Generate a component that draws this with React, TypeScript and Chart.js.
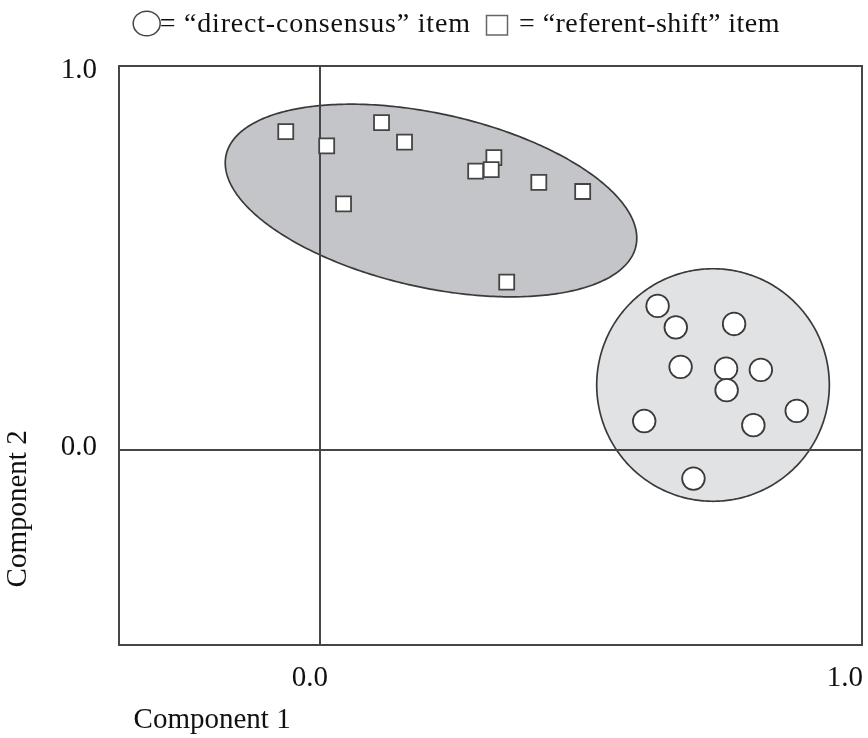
import { useEffect, useRef } from 'react';
import { Chart, registerables } from 'chart.js';

Chart.register(...registerables);

// "referent-shift" items (squares)
const referentShiftX = [-0.064, 0.0125, 0.115, 0.158, 0.044, 0.325, 0.291, 0.32, 0.409, 0.491, 0.349];
const referentShiftY = [0.846, 0.808, 0.87, 0.818, 0.654, 0.777, 0.741, 0.745, 0.711, 0.687, 0.446];

// "direct-consensus" items (circles)
const directConsensusX = [0.631, 0.665, 0.774, 0.674, 0.759, 0.824, 0.76, 0.606, 0.81, 0.891, 0.698];
const directConsensusY = [0.383, 0.326, 0.335, 0.221, 0.216, 0.213, 0.159, 0.077, 0.066, 0.104, -0.076];

const tickValues = [0, 1];
const legendLabels = ['= \u201Cdirect-consensus\u201D item', '= \u201Creferent-shift\u201D item'];
const axisTitles = ['Component 1', 'Component 2'];

// cluster regions in data units: centre + two conjugate semi-axis vectors
const referentRegion = { cx: 0.2075, cy: 0.663, ux: 0.383, uy: -0.121, vx: -0.0351, vy: -0.2256 };
const consensusRegion = { cx: 0.7346, cy: 0.1727, ux: 0.2174, uy: 0, vx: 0, vy: 0.309 };

const FONT = 'Liberation Serif';
const INK = '#111111';
const LINE = '#464646';

export default function App() {
  const ref = useRef<HTMLCanvasElement>(null);

  useEffect(() => {
    document.body.style.margin = '0';
    const canvas = ref.current;
    if (!canvas) return;

    const regionPlugin = {
      id: 'regions',
      beforeDraw(chart: any) {
        const { ctx } = chart;
        const x = chart.scales.x;
        const y = chart.scales.y;
        const drawRegion = (r: any, fill: string) => {
          ctx.save();
          ctx.beginPath();
          const n = 360;
          for (let i = 0; i <= n; i++) {
            const t = (i / n) * Math.PI * 2;
            const dx = r.cx + r.ux * Math.cos(t) + r.vx * Math.sin(t);
            const dy = r.cy + r.uy * Math.cos(t) + r.vy * Math.sin(t);
            const px = x.getPixelForValue(dx);
            const py = y.getPixelForValue(dy);
            if (i === 0) ctx.moveTo(px, py);
            else ctx.lineTo(px, py);
          }
          ctx.closePath();
          ctx.fillStyle = fill;
          ctx.fill();
          ctx.lineWidth = 1.7;
          ctx.strokeStyle = '#3a3a3a';
          ctx.stroke();
          ctx.restore();
        };
        drawRegion(referentRegion, '#c4c5c8');
        drawRegion(consensusRegion, '#e1e2e4');
      },
    };

    const headerPlugin = {
      id: 'header',
      afterDraw(chart: any) {
        const ctx = chart.ctx as CanvasRenderingContext2D;
        ctx.save();
        ctx.lineWidth = 1.5;
        ctx.strokeStyle = '#444444';
        ctx.beginPath();
        ctx.ellipse(146.7, 23.5, 13.5, 12.3, 0, 0, Math.PI * 2);
        ctx.stroke();
        ctx.strokeStyle = '#666666';
        ctx.strokeRect(486.5, 15.5, 21, 19.5);
        ctx.fillStyle = INK;
        ctx.font = `28px "${FONT}"`;
        ctx.textBaseline = 'alphabetic';
        ctx.textAlign = 'left';
        (ctx as any).letterSpacing = '0.8px';
        ctx.fillText(legendLabels[0], 159.7, 31.5);
        (ctx as any).letterSpacing = '0.45px';
        ctx.fillText(legendLabels[1], 519, 31.5);
        (ctx as any).letterSpacing = '0px';
        ctx.restore();
      },
    };

    const gridColor = (c: any) => (c.tick && c.tick.value === 0 ? LINE : 'rgba(0,0,0,0)');
    const setTicks = (scale: any) => {
      scale.ticks = tickValues.map((v) => ({ value: v }));
    };

    const chart = new Chart(canvas, {
      type: 'scatter',
      data: {
        datasets: [
          {
            label: legendLabels[1],
            data: referentShiftX.map((v, i) => ({ x: v, y: referentShiftY[i] })),
            pointStyle: 'rect',
            pointRadius: 10.6,
            pointHoverRadius: 10.6,
            backgroundColor: '#ffffff',
            borderColor: '#444444',
            borderWidth: 1.8,
          },
          {
            label: legendLabels[0],
            data: directConsensusX.map((v, i) => ({ x: v, y: directConsensusY[i] })),
            pointStyle: 'circle',
            pointRadius: 11.3,
            pointHoverRadius: 11.3,
            backgroundColor: '#ffffff',
            borderColor: '#3a3a3a',
            borderWidth: 1.8,
          },
        ],
      },
      options: {
        responsive: false,
        animation: false,
        devicePixelRatio: 1,
        layout: { autoPadding: false, padding: { top: 66, right: 6.3, bottom: 0, left: 0 } },
        plugins: {
          legend: { display: false },
          tooltip: { enabled: false },
        },
        scales: {
          x: {
            type: 'linear',
            min: -0.3756,
            max: 1.0125,
            afterBuildTicks: setTicks,
            grid: {
              color: gridColor,
              lineWidth: 2,
              drawTicks: true,
              tickLength: 16,
              tickColor: 'rgba(0,0,0,0)',
            },
            border: { display: true, color: LINE, width: 2 },
            ticks: {
              align: 'end',
              labelOffset: 8,
              padding: 0,
              autoSkip: false,
              maxRotation: 0,
              color: INK,
              font: { family: FONT, size: 29 },
              callback: (v: any) => Number(v).toFixed(1),
            },
            title: {
              display: true,
              text: '  ' + axisTitles[0],
              align: 'start',
              color: INK,
              font: { family: FONT, size: 29 },
              padding: { top: 7, bottom: 0 },
            },
          },
          y: {
            type: 'linear',
            min: -0.5193,
            max: 1.0205,
            afterBuildTicks: setTicks,
            grid: {
              color: gridColor,
              lineWidth: 2,
              drawTicks: false,
            },
            border: { display: true, color: LINE, width: 2 },
            ticks: {
              padding: 22,
              labelOffset: -3,
              autoSkip: false,
              color: INK,
              font: { family: FONT, size: 29 },
              callback: (v: any) => Number(v).toFixed(1),
            },
            title: {
              display: true,
              text: ' '.repeat(8) + axisTitles[1],
              align: 'start',
              color: INK,
              font: { family: FONT, size: 29 },
              padding: { top: 1, bottom: 3 },
            },
          },
          x2: {
            type: 'linear',
            position: 'top',
            display: true,
            grid: { display: false, drawTicks: false },
            ticks: { display: false },
            border: { display: true, color: LINE, width: 2 },
          },
          y2: {
            type: 'linear',
            position: 'right',
            display: true,
            grid: { display: false, drawTicks: false },
            ticks: { display: false },
            border: { display: true, color: LINE, width: 2 },
          },
        },
      },
      plugins: [regionPlugin, headerPlugin],
    } as any);

    return () => chart.destroy();
  }, []);

  return <canvas ref={ref} width={868} height={738} style={{ display: 'block' }} />;
}
